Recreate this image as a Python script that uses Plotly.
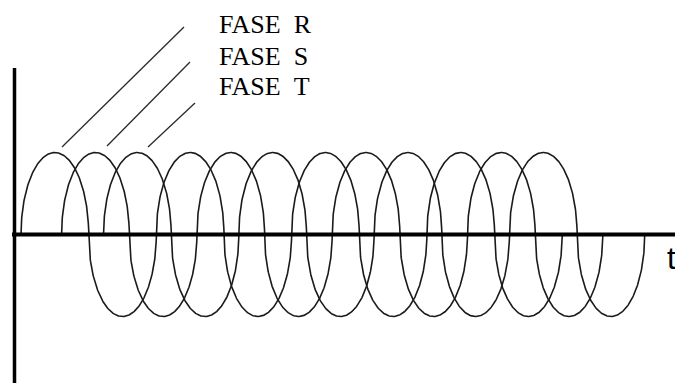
import numpy as np
import plotly.graph_objects as go

# ---- data ----
phase_names = ["R", "S", "T"]
phase_labels = ["FASE\u00a0\u00a0R", "FASE\u00a0\u00a0S", "FASE\u00a0\u00a0T"]
phase_start = [0.0, 0.30, 0.61]      # start time of each phase (in cycles)
phase_cycles = [4, 4, 4]             # number of full cycles drawn
amplitude = [1.0, 1.0, 1.0]
axis_label = "t"

# ---- geometry helpers (pixel -> data) ----
W, H = 675, 383
X0PX, PERIOD_PX = 21.0, 135.3
Y0PX, AMP_PX = 234.5, 82.0


def dx(px):
    return (px - X0PX) / PERIOD_PX


def dy(py):
    return (Y0PX - py) / AMP_PX


fig = go.Figure()

# waves: each half cycle is a semi-elliptic lobe
for name, s, n, a in zip(phase_names, phase_start, phase_cycles, amplitude):
    phi = np.linspace(0, 2 * np.pi * n, 400 * n)
    k = np.floor(phi / np.pi)
    k[-1] = 2 * n - 1
    psi = phi - k * np.pi
    t = s + 0.5 * k + 0.25 * (1 - np.cos(psi))
    y = a * np.sin(phi)
    fig.add_trace(go.Scatter(x=t, y=y, mode="lines", name="FASE " + name,
                             line=dict(color="#1a1a1a", width=1.6),
                             hoverinfo="skip"))

shapes = []
# axes
shapes.append(dict(type="line", xref="x", yref="y", x0=dx(14.5), x1=dx(14.5),
                   y0=dy(68), y1=dy(390), line=dict(color="black", width=3.5)))
shapes.append(dict(type="line", xref="x", yref="y", x0=dx(12), x1=dx(690),
                   y0=0, y1=0, line=dict(color="black", width=4)))
# leader lines from the waves to the labels
leaders = [((62, 147), (184, 27)), ((107, 146), (190, 62)), ((148, 147), (195, 103))]
for (ax_, ay_), (bx_, by_) in leaders:
    shapes.append(dict(type="line", xref="x", yref="y", x0=dx(ax_), y0=dy(ay_),
                       x1=dx(bx_), y1=dy(by_), line=dict(color="#2a2a2a", width=1.3)))

annotations = []
label_cy = [24, 56, 86.5]
for lab, cy in zip(phase_labels, label_cy):
    annotations.append(dict(text=lab, x=dx(217), y=dy(cy), xref="x", yref="y",
                            xanchor="left", yanchor="middle", showarrow=False,
                            font=dict(family="Liberation Serif", size=26, color="black")))
annotations.append(dict(text=axis_label, x=dx(665), y=dy(258), xref="x", yref="y",
                        xanchor="left", yanchor="middle", showarrow=False,
                        font=dict(family="Liberation Sans", size=31, color="black")))

fig.update_layout(
    width=W, height=H,
    margin=dict(l=0, r=0, t=0, b=0),
    paper_bgcolor="white", plot_bgcolor="white",
    showlegend=False,
    xaxis=dict(visible=False, range=[dx(0), dx(W)], fixedrange=True),
    yaxis=dict(visible=False, range=[dy(H), dy(0)], fixedrange=True),
    shapes=shapes, annotations=annotations,
)

fig.write_html("out.html", config=dict(displayModeBar=False),
               post_script="document.body.style.margin='0';document.body.style.overflow='hidden';")
